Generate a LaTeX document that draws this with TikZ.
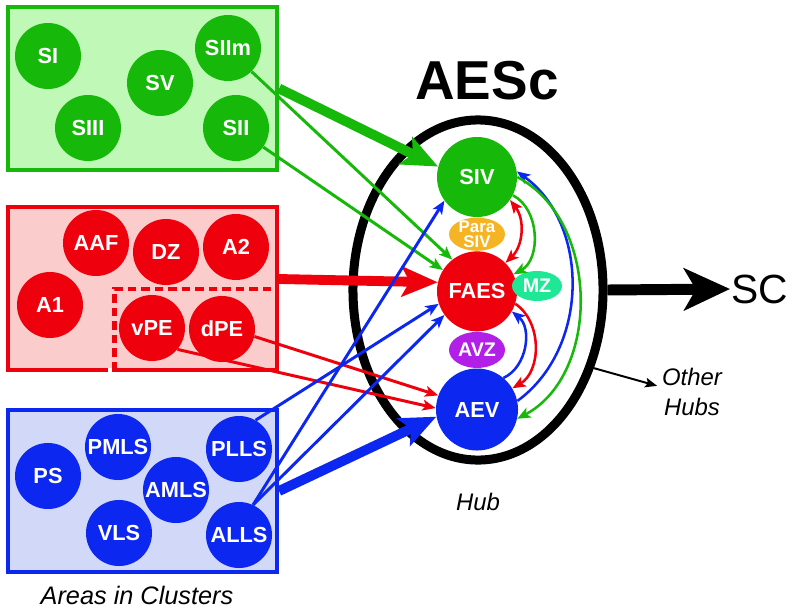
\documentclass[tikz,border=0pt]{standalone}
\usepackage{fontspec}
\setmainfont{Liberation Sans}
\usetikzlibrary{positioning,arrows.meta,shapes.geometric,calc}
\definecolor{grn}{RGB}{22,185,10}
\definecolor{grnlight}{RGB}{192,248,184}
\definecolor{rd}{RGB}{238,0,12}
\definecolor{rdlight}{RGB}{250,204,204}
\definecolor{blu}{RGB}{12,40,240}
\definecolor{blulight}{RGB}{210,216,248}
\definecolor{para}{RGB}{245,180,35}
\definecolor{mz}{RGB}{30,232,150}
\definecolor{avz}{RGB}{178,32,232}
\tikzset{
  area/.style={circle, minimum size=16.5mm, inner sep=0pt, text=white, font=\fontsize{15.5}{15.5}\selectfont\bfseries},
  hubarea/.style={area, minimum size=20mm},
  subarea/.style={ellipse, inner sep=0pt, text=white, font=\fontsize{14}{14}\selectfont\bfseries},
  cluster/.style={rectangle, line width=2.85pt, minimum width=67.25mm, minimum height=40.75mm},
  connect/.style={->, line width=2.1pt},
  hubconnect/.style={->, line width=1.8pt},
  bigconnect/.style={-{Stealth[length=9mm, width=7.5mm, inset=2mm]}, line width=7pt},
  note/.style={font=\fontsize{17}{21}\selectfont\itshape, align=center}
}
\begin{document}
\begin{tikzpicture}[x=0.025cm, y=-0.025cm, >={Stealth[length=3.3mm, width=2.7mm, inset=0.8mm]}]
  \useasboundingbox (0,0) rectangle (800,611);

  % clusters
  \node[cluster, draw=grn, fill=grnlight] (grnbox) at (142.5,88.5) {};
  \node[cluster, draw=rd, fill=rdlight] (rdbox) at (142.5,288.5) {};
  \node[cluster, draw=blu, fill=blulight, minimum height=40.5mm] (blubox) at (142.5,491) {};
  \draw[rd, line width=2.85pt, dash pattern=on 6pt off 3.6pt] (114.5,370) -- (114.5,289) -- (277,289);
  \draw[white, line width=2.85pt] (107.5,370) -- (111.5,370);
  \coordinate (rdout) at (279,279);

  \node[area, fill=grn] (SI) at (48,56) {SI};
  \node[area, fill=grn] (SIII) at (88,128) {SIII};
  \node[area, fill=grn] (SV) at (160,83) {SV};
  \node[area, fill=grn] (SIIm) at (228,48) {SIIm};
  \node[area, fill=grn] (SII) at (236,128) {SII};

  \node[area, fill=rd] (AAF) at (96,243) {AAF};
  \node[area, fill=rd] (DZ) at (166,252) {DZ};
  \node[area, fill=rd] (A2) at (236,247) {A2};
  \node[area, fill=rd] (A1) at (50,305) {A1};
  \node[area, fill=rd] (vPE) at (152,328) {vPE};
  \node[area, fill=rd] (dPE) at (222,329) {dPE};

  \node[area, fill=blu] (PS) at (48,476) {PS};
  \node[area, fill=blu] (PMLS) at (118,447) {PMLS};
  \node[area, fill=blu] (AMLS) at (176,490) {AMLS};
  \node[area, fill=blu] (PLLS) at (239,449) {PLLS};
  \node[area, fill=blu] (VLS) at (119,533) {VLS};
  \node[area, fill=blu] (ALLS) at (239,535) {ALLS};
  \node[note, font=\fontsize{18}{18}\selectfont\itshape] (areas) at (137,595) {Areas in Clusters};

  % hub
  \node[ellipse, draw, line width=6.4pt, minimum width=62.5mm, minimum height=85mm] (hub) at (478,290) {};
  \node[font=\fontsize{39}{39}\selectfont\bfseries] (aesc) at (487,81) {AESc};
  \node[note] (hublabel) at (478,502) {Hub};

  \node[hubarea, fill=grn] (SIV) at (477,177) {SIV};
  \node[subarea, fill=para, minimum width=14mm, minimum height=8.3mm, inner ysep=-1.5mm,
        font=\fontsize{12}{11}\selectfont\bfseries, align=center, below=0pt of SIV] (ParaSIV) {Para\\SIV};
  \node[hubarea, fill=rd, below=0pt of ParaSIV] (FAES) {FAES};
  \node[subarea, fill=avz, minimum width=14mm, minimum height=9mm, below=0pt of FAES] (AVZ) {AVZ};
  \node[hubarea, fill=blu, minimum size=20.5mm, below=0pt of AVZ] (AEV) {AEV};
  \node[subarea, fill=mz, minimum width=12.5mm, minimum height=7.5mm] (MZ) at (537,286) {MZ};

  \node[font=\fontsize{29}{29}\selectfont, inner sep=1pt, anchor=west] (SC) at (730,289) {SC};
  \node[note] (other) at (692,392) {Other\\Hubs};

  % inputs from the clusters
  \draw[bigconnect, grn] (grnbox.east) -- (SIV.165);
  \draw[bigconnect, rd] (rdout) -- (FAES.167);
  \draw[bigconnect, blu] (blubox.east) -- (AEV.190);
  \draw[connect, grn] (SIIm.-45) -- (FAES.128);
  \draw[connect, grn] (SII.-35) -- (FAES.148);
  \draw[connect, rd] (dPE.-13) -- (AEV.160);
  \draw[connect, rd] (vPE.-40) -- (AEV.178);
  \draw[connect, blu] (PLLS.60) -- (FAES.198);
  \draw[connect, blu] (ALLS.65) -- (FAES.216);
  \draw[connect, blu] (ALLS.65) -- (SIV.216);

  % links inside the hub
  \draw[hubconnect, rd, <->] (FAES.45) to[bend right=42] (SIV.-35);
  \draw[hubconnect, grn] (SIV.-27) to[bend left=62] (FAES.25);
  \draw[hubconnect, blu] (AEV.12) to[bend right=54] (SIV.8);
  \draw[hubconnect, grn] (SIV.0) to[bend left=62] (AEV.-13);
  \draw[hubconnect, blu] (AEV.50) to[bend right=58] (FAES.-30);
  \draw[hubconnect, rd] (FAES.-18) to[bend left=58] (AEV.31);

  % outputs
  \draw[line width=7.8pt, -{Stealth[length=11.5mm, width=10.5mm, inset=3mm]}] (hub.east) -- (SC.west);
  \draw[->, line width=1.4pt, >={Stealth[length=3mm, width=2.4mm, inset=0.6mm]}] (hub.-34) -- (other.170);
\end{tikzpicture}
\end{document}
